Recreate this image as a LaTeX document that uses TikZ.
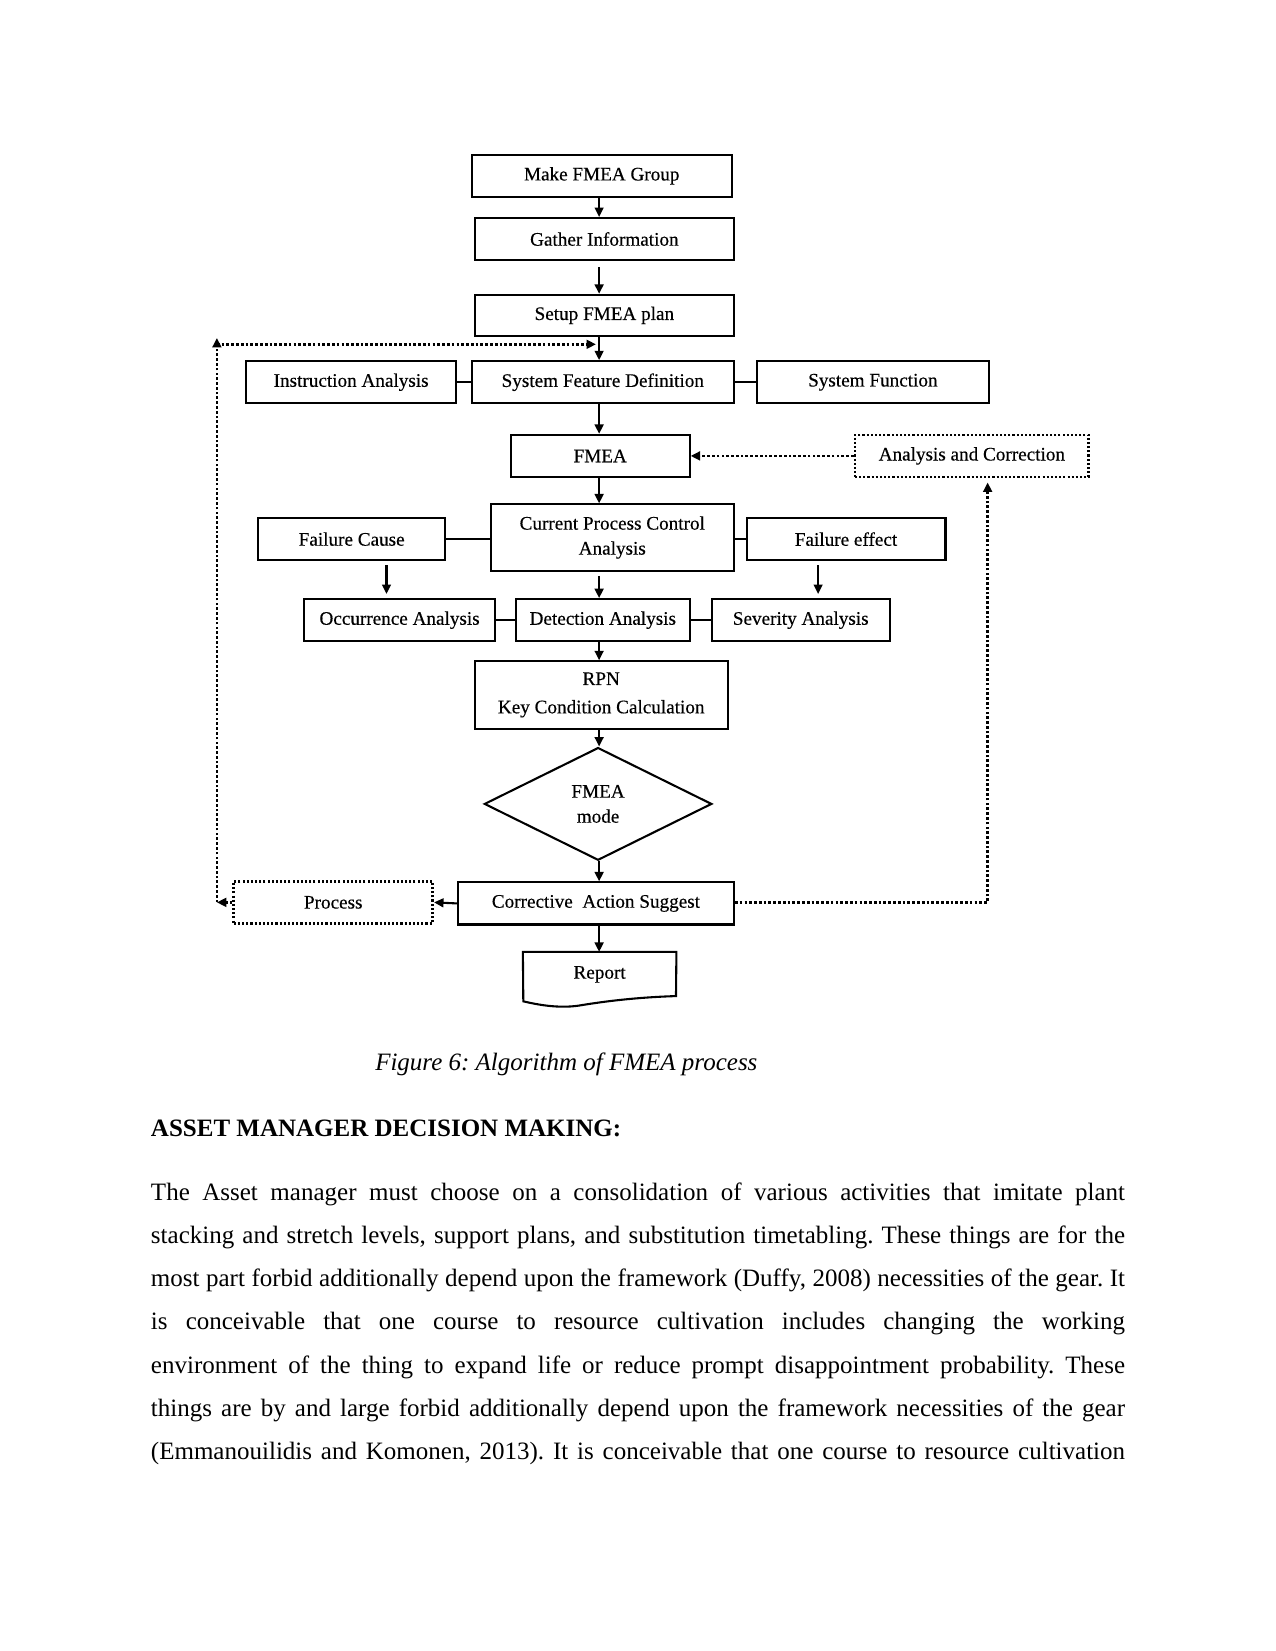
\documentclass[tikz,border=0pt]{standalone}
\usepackage{fontspec}
\setmainfont{Liberation Serif}
\newfontfamily\figfam{Liberation Serif}[FakeBold=0.35]
\usetikzlibrary{shapes.geometric,arrows.meta}
\newcommand{\figfont}{\figfam\fontsize{9.2}{12}\selectfont}
\newcommand{\bodyfont}{\fontsize{12}{14}\selectfont}
\newcommand{\pline}[1]{\makebox[467.5pt][s]{#1}}
\frenchspacing
\begin{document}
\begin{tikzpicture}[x=0.50535pt,y=-0.50535pt,
  box/.style={draw, line width=1pt, minimum height=20.2pt, inner sep=1pt, align=center, font=\figfont},
  dbox/.style={box, densely dotted, line width=1.3pt},
  arr/.style={-{Triangle[length=4.5pt,width=4.2pt]}, line width=1pt},
  darr/.style={-{Triangle[length=4.5pt,width=4.2pt]}, densely dotted, line width=1.3pt},
  link/.style={line width=1pt},
  txt/.style={anchor=base west, inner sep=0pt, font=\bodyfont}]
\useasboundingbox (0,0) rectangle (1211,1568);
\coordinate (spine) at (569,0);
% nodes
\node[box, minimum width=124.8pt] (make) at (571.5,167) {Make FMEA Group};
\node[box, minimum width=124.3pt] (gather) at (574,227) {Gather Information};
\node[box, minimum width=124.3pt, minimum height=19.7pt] (setup) at (574,299.5) {Setup FMEA plan};
\node[box, minimum width=100.6pt] (instr) at (333.5,363) {Instruction Analysis};
\node[box, minimum width=125.8pt] (sfd) at (572.5,363) {System Feature Definition};
\node[box, minimum width=111.2pt] (sfun) at (829,363) {System Function};
\node[box, minimum width=85.9pt] (fmea) at (570,433) {FMEA};
\node[dbox, minimum width=112.2pt] (ac) at (923,433) {Analysis and Correction};
\node[box, minimum width=116.7pt, minimum height=31.8pt] (cpca) at (581.5,510.5) {Current Process Control\\Analysis};
\node[box, minimum width=90pt] (fc) at (334,512) {Failure Cause};
\node[box, minimum width=95.5pt] (fe) at (803.5,512) {Failure effect};
\node[box, minimum width=91.5pt] (occ) at (379.5,589) {Occurrence Analysis};
\node[box, minimum width=83.4pt] (det) at (572.5,589) {Detection Analysis};
\node[box, minimum width=85.4pt] (sev) at (760.5,589) {Severity Analysis};
\node[box, minimum width=121.3pt, minimum height=32.3pt] (rpn) at (571,660) {RPN\\[1.6pt]Key Condition Calculation};
\node[draw, diamond, line width=1pt, minimum width=109.2pt, minimum height=54.1pt, inner sep=0pt, align=center, font=\figfont] (mode) at (568,763.5) {FMEA\\mode};
\node[box, minimum width=132.4pt] (cas) at (566,858) {Corrective~ Action Suggest};
\node[dbox, minimum width=95.5pt] (proc) at (316.5,857) {Process};
\node[font=\figfont, minimum width=73.3pt, minimum height=21.2pt, inner sep=0pt, anchor=north] (report) at (569.5,904) {Report};
\draw[link] (report.north west) -- (report.north east) -- (642,946)
  .. controls (610,947) and (580,950) .. (550,955)
  .. controls (530,958) and (510,954) .. (497,951) -- cycle;
% solid connectors
\draw[arr] (make.south -| spine) -- (gather.north -| spine);
\draw[arr, shorten <=3pt] (gather.south -| spine) -- (setup.north -| spine);
\draw[arr] (setup.south -| spine) -- (sfd.north -| spine);
\draw[link] (instr) -- (sfd);
\draw[link] (sfd) -- (sfun);
\draw[arr] (sfd.south -| spine) -- (fmea.north -| spine);
\draw[arr] (fmea.south -| spine) -- (cpca.north -| spine);
\draw[link] (fc.east) -- (fc.east -| cpca.west);
\draw[link] (cpca.east |- fe.west) -- (fe.west);
\draw[arr, shorten <=2pt, shorten >=2pt] ([xshift=16.7pt]fc.south) -- ([xshift=16.7pt]fc.south |- occ.north);
\draw[arr, shorten <=2pt, shorten >=2pt] ([xshift=-13.4pt]fe.south) -- ([xshift=-13.4pt]fe.south |- sev.north);
\draw[arr, shorten <=2pt] (cpca.south -| spine) -- (det.north -| spine);
\draw[link] (occ) -- (det);
\draw[link] (det) -- (sev);
\draw[arr] (det.south -| spine) -- (rpn.north -| spine);
\draw[arr] (rpn.south -| spine) -- (mode.north -| spine);
\draw[arr] (mode.south -| spine) -- (cas.north -| spine);
\draw[arr] (cas.west) -- (proc.east);
\draw[arr] (cas.south -| spine) -- (report.north -| spine);
% dotted feedback connectors
\coordinate (lb) at (206,857);
\coordinate (lt) at (206,321);
\coordinate (ltop) at (206,327);
\coordinate (sfdin) at (566,327);
\coordinate (rt) at (938,857);
\draw[darr] (ac.west) -- (fmea.east);
\draw[darr] (proc.west) -- (lb);
\draw[darr] (lb) -- (lt);
\draw[darr] (ltop) -- (sfdin);
\draw[darr, shorten >=2pt] (cas.east |- rt) -- (rt) -- (rt |- ac.south);
% caption and text
\node[txt, font=\bodyfont\itshape] (cap) at (356,1017) {Figure 6: Algorithm of FMEA process};
\node[txt, font=\bodyfont\bfseries] (head) at (143,1079) {ASSET MANAGER DECISION MAKING:};
\node[txt] (l1) at (143,1140) {\pline{The Asset manager must choose on a consolidation of various activities that imitate plant}};
\node[txt] (l2) at (143,1181) {\pline{stacking and stretch levels, support plans, and substitution timetabling. These things are for the}};
\node[txt] (l3) at (143,1222) {\pline{most part forbid additionally depend upon the framework (Duffy, 2008) necessities of the gear. It}};
\node[txt] (l4) at (143,1263) {\pline{is conceivable that one course to resource cultivation includes changing the working}};
\node[txt] (l5) at (143,1304) {\pline{environment of the thing to expand life or reduce prompt disappointment probability. These}};
\node[txt] (l6) at (143,1345) {\pline{things are by and large forbid additionally depend upon the framework necessities of the gear}};
\node[txt] (l7) at (143,1386) {\pline{(Emmanouilidis and Komonen, 2013). It is conceivable that one course to resource cultivation}};
\end{tikzpicture}
\end{document}
